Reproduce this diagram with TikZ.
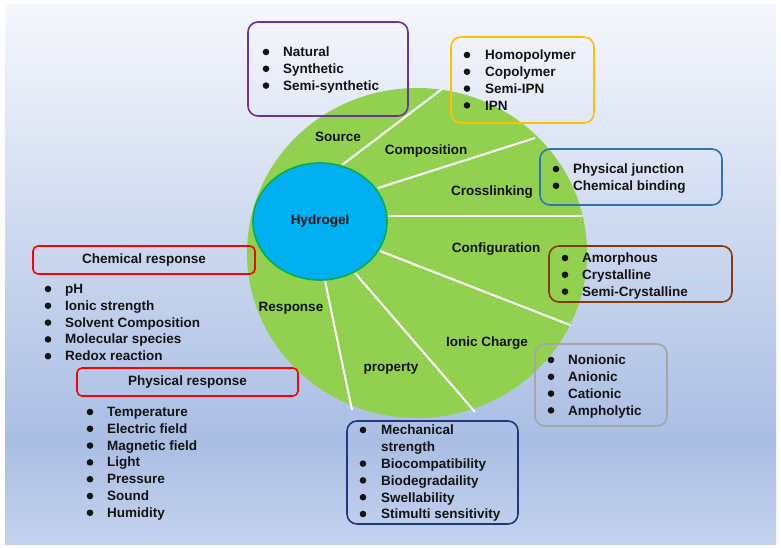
\documentclass[tikz,border=0pt]{standalone}
\usepackage{fontspec}
\setmainfont{Liberation Sans}
\usetikzlibrary{positioning}

\definecolor{wheelgreen}{HTML}{92D050}
\definecolor{hubblue}{HTML}{00B0F0}
\definecolor{hubrim}{HTML}{00B050}
\definecolor{srcpurple}{HTML}{7030A0}
\definecolor{compyellow}{HTML}{FFC000}
\definecolor{linkblue}{HTML}{2E75B6}
\definecolor{confbrown}{HTML}{843C0C}
\definecolor{chargegray}{HTML}{A6A6A6}
\definecolor{propnavy}{HTML}{1F3A7A}
\definecolor{respred}{HTML}{FF0000}
\definecolor{bgtop}{HTML}{F5F7FC}
\definecolor{bgmid}{HTML}{AABEE4}
\definecolor{bgbot}{HTML}{C4D2EE}
\definecolor{inkdark}{HTML}{141414}

% bullet column: x, first row y, rows
\newcommand{\listdots}[3]{\foreach \k in {#3} \fill[inkdark] (#1,#2+16.8*\k) circle[radius=3.3];}

\begin{document}
\begin{tikzpicture}[
  x=1pt, y=-1pt,
  every node/.style={font=\fontsize{13.5}{16.8}\selectfont\bfseries, text=inkdark},
  listbox/.style={anchor=north west, inner sep=0pt, align=left},
  frame/.style={line width=1.6pt, rounded corners=10pt},
  headbox/.style={draw=respred, line width=1.6pt, rounded corners=5pt,
    minimum width=221pt, minimum height=28pt, inner sep=0pt},
  spoke/.style={white, line width=2pt}
]
  \useasboundingbox (0,0) rectangle (781,548);
  \fill[white] (0,0) rectangle (781,548);
  \shade[top color=bgtop, bottom color=bgmid] (5,5) rectangle (776,440);
  \shade[top color=bgmid, bottom color=bgbot] (5,440) rectangle (776,544);

  \fill[wheelgreen] (417,253) ellipse [x radius=170, y radius=165];

  \draw[spoke] (342,165) -- (442,89);
  \draw[spoke] (378,188) -- (535,138);
  \draw[spoke] (388,216) -- (582,216);
  \draw[spoke] (380,251) -- (570,325);
  \draw[spoke] (355,273) -- (475,412);
  \draw[spoke] (325,281) -- (352,410);

  \filldraw[fill=hubblue, draw=hubrim, line width=1.6pt] (320,221.5) ellipse [x radius=67, y radius=58.5];
  \node (hub) at (320,221.5) {Hydrogel};

  \node (source) at (338,137) {Source};
  \node (composition) at (426,151) {Composition};
  \node (crosslinking) at (492,192) {Crosslinking};
  \node (configuration) at (496,249) {Configuration};
  \node (charge) at (487,343) {Ionic Charge};
  \node (property) at (391,368) {property};
  \node (response) at (291,308) {Response};

  \draw[frame, srcpurple] (248,22) rectangle (408,116);
  \node[listbox] (sourcelist) at (283,47) {Natural\\Synthetic\\Semi-synthetic};
  \listdots{266}{52}{0,1,2}

  \draw[frame, compyellow] (451,37) rectangle (594,123);
  \node[listbox] (complist) at (485,50) {Homopolymer\\Copolymer\\Semi-IPN\\IPN};
  \listdots{467}{55}{0,...,3}

  \draw[frame, linkblue] (540,149) rectangle (722,205);
  \node[listbox] (linklist) at (573,164) {Physical junction\\Chemical binding};
  \listdots{556}{169}{0,1}

  \draw[frame, confbrown] (549,246) rectangle (732,302);
  \node[listbox] (conflist) at (582,253) {Amorphous\\Crystalline\\Semi-Crystalline};
  \listdots{565}{258}{0,1,2}

  \draw[frame, chargegray] (535,344) rectangle (667,426);
  \node[listbox] (chargelist) at (568,355) {Nonionic\\Anionic\\Cationic\\Ampholytic};
  \listdots{551}{360}{0,...,3}

  \draw[frame, propnavy] (347,421) rectangle (518,524);
  \node[listbox] (proplist) at (381,425) {Mechanical\\strength\\Biocompatibility\\Biodegradaility\\Swellability\\Stimulti sensitivity};
  \listdots{363}{430}{0,2,3,4,5}

  \node[headbox, minimum width=222pt] (chemhead) at (144,260) {Chemical response};
  \node[listbox] (chemlist) at (65,284) {pH\\Ionic strength\\Solvent Composition\\Molecular species\\Redox reaction};
  \listdots{48}{289}{0,...,4}

  \node[headbox] (physhead) at (187.5,382) {Physical response};
  \node[listbox] (physlist) at (107,407) {Temperature\\Electric field\\Magnetic field\\Light\\Pressure\\Sound\\Humidity};
  \listdots{90}{412}{0,...,6}
\end{tikzpicture}
\end{document}
